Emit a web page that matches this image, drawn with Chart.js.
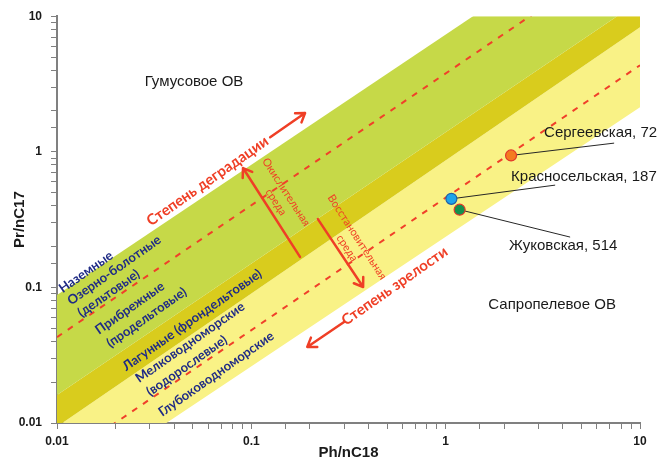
<!DOCTYPE html>
<html>
<head>
<meta charset="utf-8">
<script src="https://cdn.jsdelivr.net/npm/chart.js@4.4.1/dist/chart.umd.min.js"></script>
<style>
  html, body { margin: 0; padding: 0; background: #ffffff; }
  #wrap { width: 662px; height: 460px; position: relative; }
</style>
</head>
<body>
<div id="wrap"><canvas id="c"></canvas></div>
<script>
// Axis range (both axes logarithmic)
const axisMin = 0.01;
const axisMax = 10;

// Field boundaries, given as Pr/nC17 at Ph/nC18 = 0.01 and at Ph/nC18 = 10
const boundaryX = [0.01, 10];
const greenTop = [0.088, 66.8];
const greenBottom = [0.0161, 13.0];
const lagoonBottom = [0.0094, 8.3];
const yellowBottom = [0.0029, 2.13];
const dashedUpper = [0.043, 35.5];
const dashedLower = [0.0051, 4.35];

// Samples
const wells = ['Сергеевская, 72', 'Красносельская, 187', 'Жуковская, 514'];
const wellPh = [2.17, 1.07, 1.18];
const wellPr = [0.94, 0.45, 0.374];
const wellFill = ['#f47b20', '#1ea4ea', '#14914c'];
const wellBorder = ['#e3362a', '#1f5fa6', '#e3362a'];
const wellLabelX = [3.21, 2.17, 2.12];
const wellLabelY = [1.37, 0.651, 0.2018];
const leaderEndX = [7.36, 3.66, 4.37];
const leaderEndY = [1.159, 0.568, 0.235];

// Organic matter type captions
const typeLabels = ['Гумусовое ОВ', 'Сапропелевое ОВ'];
const typeLabelX = [0.0507, 3.53];
const typeLabelY = [3.26, 0.0742];

// Depositional environment captions (along the fields)
const faciesLabels = ['Наземные', 'Озерно-болотные', '(дельтовые)', 'Прибрежные', '(продельтовые)',
  'Лагунные (фрондельтовые)', 'Мелководноморские', '(водорослевые)', 'Глубоководноморские'];
const faciesX = [0.0141, 0.0197, 0.01845, 0.0237, 0.0289, 0.0496, 0.0484, 0.0465, 0.0659];
const faciesY = [0.130, 0.134, 0.0905, 0.0705, 0.060, 0.0575, 0.0393, 0.0264, 0.0230];

// Trend captions and arrows
const trendLabels = ['Степень деградации', 'Степень зрелости'];
const trendX = [0.0595, 0.546];
const trendY = [0.608, 0.1024];
const trendArrowFrom = [[0.125, 1.28], [0.30, 0.0556]];
const trendArrowTo = [[0.189, 1.93], [0.194, 0.0364]];

// Redox captions and arrows
const redoxLabels = ['Окислительная', 'среда', 'Восстановительная', 'среда'];
const redoxX = [0.151, 0.134, 0.350, 0.311];
const redoxY = [0.505, 0.426, 0.235, 0.195];
const redoxArrowFrom = [[0.178, 0.168], [0.22, 0.319]];
const redoxArrowTo = [[0.0906, 0.759], [0.376, 0.1007]];

const RED = '#ef3f26';
const NAVY = '#1f2b85';
const TEXT_FONT = "'Liberation Sans Narrow', 'Arial Narrow', 'Liberation Sans', Arial, sans-serif";
const LABEL_FONT = "Lato, 'Open Sans', 'Liberation Sans', sans-serif";

function line(values) {
  return boundaryX.map((x, i) => ({ x: x, y: values[i] }));
}

function band(values, color, fillTo, order) {
  return {
    type: 'line', data: line(values), borderWidth: 0, pointRadius: 0,
    backgroundColor: color, fill: fillTo, order: order, tension: 0
  };
}

const datasets = [];
// Sample points
datasets.push({
  type: 'scatter',
  data: wellPh.map((x, i) => ({ x: x, y: wellPr[i] })),
  pointRadius: 5.5, pointBorderWidth: 1.2,
  backgroundColor: wellFill, borderColor: wellBorder, order: 0
});
// Leader lines to the well captions
wells.forEach((w, i) => {
  datasets.push({
    type: 'line',
    data: [{ x: wellPh[i], y: wellPr[i] }, { x: leaderEndX[i], y: leaderEndY[i] }],
    borderColor: '#262626', borderWidth: 1, pointRadius: 0, fill: false, order: 1
  });
});
// Dashed trend lines
[dashedUpper, dashedLower].forEach(v => {
  datasets.push({
    type: 'line', data: line(v), borderColor: '#f0402a', borderWidth: 2,
    borderDash: [6, 7], pointRadius: 0, fill: false, order: 2
  });
});
// Fields: green, dark yellow, light yellow
datasets.push(band(greenTop, '#c6d948', '+1', 3));
datasets.push(band(greenBottom, '#d9cc1d', '+1', 4));
datasets.push(band(lagoonBottom, '#f9f286', '+1', 5));
datasets.push(band(yellowBottom, 'rgba(0,0,0,0)', false, 6));

function isDecade(v) {
  const l = Math.log10(v);
  return Math.abs(l - Math.round(l)) < 1e-6;
}
function decadeLabel(v) {
  const l = Math.round(Math.log10(v));
  return l >= 0 ? String(Math.round(v)) : v.toFixed(-l);
}

function drawArrow(ctx, x1, y1, x2, y2) {
  const a = Math.atan2(y2 - y1, x2 - x1);
  const h = 10;
  ctx.beginPath();
  ctx.moveTo(x1, y1);
  ctx.lineTo(x2, y2);
  ctx.moveTo(x2 - h * Math.cos(a - 0.6), y2 - h * Math.sin(a - 0.6));
  ctx.lineTo(x2, y2);
  ctx.lineTo(x2 - h * Math.cos(a + 0.6), y2 - h * Math.sin(a + 0.6));
  ctx.stroke();
}

function drawRotated(ctx, text, x, y, deg) {
  ctx.save();
  ctx.translate(x, y);
  ctx.rotate(deg * Math.PI / 180);
  ctx.fillText(text, 0, 0);
  ctx.restore();
}

const annotations = {
  id: 'annotations',
  afterDatasetsDraw(chart) {
    const ctx = chart.ctx;
    const sx = chart.scales.x, sy = chart.scales.y;
    const P = (x, y) => [sx.getPixelForValue(x), sy.getPixelForValue(y)];
    ctx.save();
    ctx.textBaseline = 'middle';

    // Arrows
    ctx.strokeStyle = RED;
    ctx.lineWidth = 2.5;
    ctx.lineCap = 'round';
    ctx.lineJoin = 'round';
    const froms = trendArrowFrom.concat(redoxArrowFrom);
    const tos = trendArrowTo.concat(redoxArrowTo);
    froms.forEach((f, i) => {
      const a = P(f[0], f[1]), b = P(tos[i][0], tos[i][1]);
      drawArrow(ctx, a[0], a[1], b[0], b[1]);
    });

    // Organic matter type
    ctx.fillStyle = '#1a1a1a';
    ctx.textAlign = 'center';
    ctx.font = '15px ' + TEXT_FONT;
    typeLabels.forEach((t, i) => {
      const p = P(typeLabelX[i], typeLabelY[i]);
      ctx.fillText(t, p[0], p[1]);
    });

    // Well captions
    ctx.textAlign = 'left';
    wells.forEach((t, i) => {
      const p = P(wellLabelX[i], wellLabelY[i]);
      ctx.fillText(t, p[0], p[1]);
    });

    // Facies captions
    ctx.textAlign = 'center';
    ctx.fillStyle = NAVY;
    ctx.font = 'bold 13px ' + LABEL_FONT;
    faciesLabels.forEach((t, i) => {
      const p = P(faciesX[i], faciesY[i]);
      drawRotated(ctx, t, p[0], p[1], -35);
    });

    // Trend captions
    ctx.fillStyle = RED;
    ctx.font = 'bold 15px ' + LABEL_FONT;
    trendLabels.forEach((t, i) => {
      const p = P(trendX[i], trendY[i]);
      drawRotated(ctx, t, p[0], p[1], -35);
    });

    // Redox captions
    ctx.font = '11px ' + LABEL_FONT;
    redoxLabels.forEach((t, i) => {
      const p = P(redoxX[i], redoxY[i]);
      drawRotated(ctx, t, p[0], p[1], 57);
    });
    ctx.restore();
  }
};

const axisCommon = {
  type: 'logarithmic',
  min: axisMin,
  max: axisMax,
  grid: {
    display: true, drawOnChartArea: false, drawTicks: true,
    tickLength: 6, color: '#808080', lineWidth: 1
  },
  border: { display: true, color: '#808080', width: 2 }
};

new Chart(document.getElementById('c'), {
  type: 'scatter',
  data: { datasets: datasets },
  options: {
    responsive: true,
    maintainAspectRatio: false,
    animation: false,
    layout: { padding: { left: 6, right: 22, top: 16, bottom: 0 } },
    plugins: { legend: { display: false }, tooltip: { enabled: false } },
    scales: {
      x: Object.assign({}, axisCommon, {
        position: 'bottom',
        afterFit(scale) { scale.height = 37; },
        ticks: {
          autoSkip: false, maxRotation: 0, padding: 5, color: '#1a1a1a',
          font: { family: TEXT_FONT, size: 12, weight: 'bold' },
          callback: v => isDecade(v) ? decadeLabel(v) : ''
        },
        title: {
          display: true, text: 'Ph/nC18', color: '#1a1a1a',
          font: { family: TEXT_FONT, size: 15, weight: 'bold' },
          padding: { top: 0, bottom: -2 }
        }
      }),
      y: Object.assign({}, axisCommon, {
        position: 'left',
        afterFit(scale) { scale.width = 51; },
        ticks: {
          autoSkip: false, padding: 9, color: '#1a1a1a',
          font: { family: TEXT_FONT, size: 12, weight: 'bold' },
          callback: v => isDecade(v) ? decadeLabel(v) : ''
        },
        title: {
          display: true, text: 'Pr/nC17', color: '#1a1a1a',
          font: { family: TEXT_FONT, size: 15, weight: 'bold' },
          padding: { top: 5, bottom: 0 }
        }
      })
    }
  },
  plugins: [annotations]
});
</script>
</body>
</html>
